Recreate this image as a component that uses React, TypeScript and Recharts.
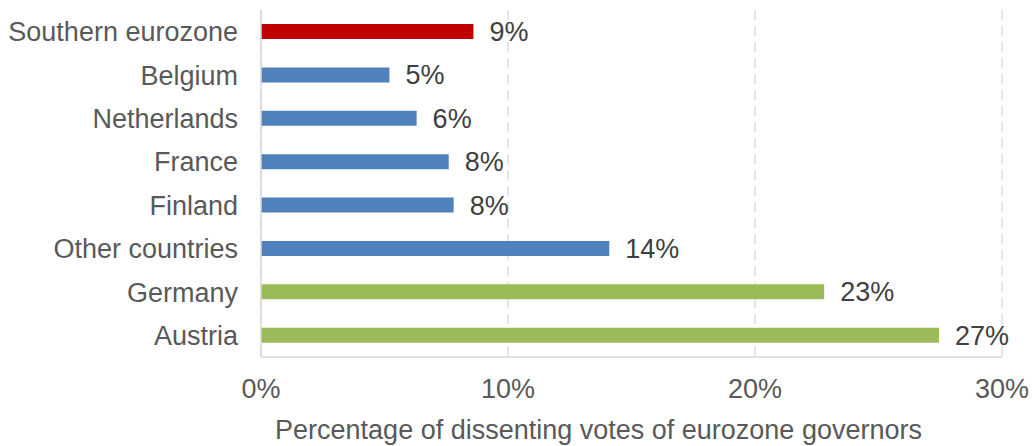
import React from 'react';
import { BarChart, Bar, XAxis, YAxis, CartesianGrid, Cell, LabelList, Label } from 'recharts';

// Chart values
const countries = [
  'Southern eurozone',
  'Belgium',
  'Netherlands',
  'France',
  'Finland',
  'Other countries',
  'Germany',
  'Austria',
];
const dissentShare = [8.6, 5.2, 6.3, 7.6, 7.8, 14.1, 22.8, 27.45];
const valueLabels = ['9%', '5%', '6%', '8%', '8%', '14%', '23%', '27%'];
const barColors = ['#C00000', '#4F81BD', '#4F81BD', '#4F81BD', '#4F81BD', '#4F81BD', '#9BBB59', '#9BBB59'];
const xTicks = [0, 10, 20, 30];

const data = countries.map((name, i) => ({
  name,
  value: dissentShare[i],
  label: valueLabels[i],
}));

const FONT = '"Liberation Sans", Arial, sans-serif';
const FONT_SIZE = 27;
const AXIS_TEXT = '#595959';
const LINE = '#d9d9d9';

export default function App() {
  return (
    <div style={{ position: 'absolute', left: 0, top: 0, width: 1033, height: 446, background: '#fff', fontFamily: FONT }}>
      <BarChart
        width={1033}
        height={446}
        data={data}
        layout="vertical"
        margin={{ top: 10, right: 31, left: 0, bottom: 0 }}
        barCategoryGap="0%"
      >
        <CartesianGrid horizontal={false} stroke="#cccccc" strokeDasharray="10 6" />
        <XAxis
          type="number"
          domain={[0, 30]}
          ticks={xTicks}
          tickFormatter={(v: number) => `${v}%`}
          height={89}
          axisLine={{ stroke: LINE, strokeWidth: 1.5 }}
          tickLine={false}
          tickMargin={16}
          tick={{ fill: AXIS_TEXT, fontSize: FONT_SIZE, fontFamily: FONT }}
        >
          <Label
            content={(props: any) => {
              const vb = props.viewBox || {};
              return (
                <text
                  x={vb.x + vb.width / 2 - 33}
                  y={439}
                  textAnchor="middle"
                  fill={AXIS_TEXT}
                  fontSize={FONT_SIZE}
                  fontFamily={FONT}
                >
                  Percentage of dissenting votes of eurozone governors
                </text>
              );
            }}
          />
        </XAxis>
        <YAxis
          type="category"
          dataKey="name"
          width={261}
          axisLine={{ stroke: LINE, strokeWidth: 1.5 }}
          tickLine={false}
          tickMargin={17}
          interval={0}
          tick={{ fill: AXIS_TEXT, fontSize: FONT_SIZE, fontFamily: FONT }}
        />
        <Bar dataKey="value" barSize={15} isAnimationActive={false}>
          {data.map((d, i) => (
            <Cell key={d.name} fill={barColors[i]} />
          ))}
          <LabelList
            dataKey="label"
            position="right"
            offset={16}
            fill="#404040"
            fontSize={FONT_SIZE}
            fontFamily={FONT}
          />
        </Bar>
      </BarChart>
    </div>
  );
}
